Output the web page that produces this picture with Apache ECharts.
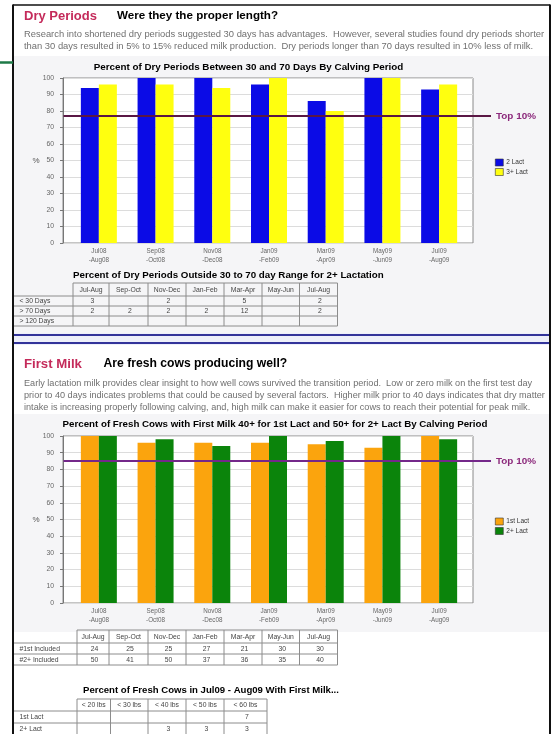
<!DOCTYPE html>
<html><head><meta charset="utf-8">
<script src="https://cdn.jsdelivr.net/npm/echarts@6/dist/echarts.min.js"></script>
<style>html,body{margin:0;padding:0;background:#fff;}#c{width:555px;height:734px;}</style>
</head><body><div id="c"></div>
<script>
// ---------- DATA ----------
const periods = ['Jul08\n-Aug08','Sep08\n-Oct08','Nov08\n-Dec08','Jan09\n-Feb09','Mar09\n-Apr09','May09\n-Jun09','Jul09\n-Aug09'];
const dryLact2 = [94, 100, 100, 96, 86, 100, 93];
const dryLact3 = [96, 96, 94, 100, 80, 100, 96];
const dryTop10 = 77;
const milkLact1 = [100, 96, 96, 96, 95, 93, 100];
const milkLact2 = [100, 98, 94, 100, 97, 100, 98];
const milkTop10 = 85;
const tableCols = ['Jul-Aug','Sep-Oct','Nov-Dec','Jan-Feb','Mar-Apr','May-Jun','Jul-Aug'];
const dryRowLabels = ['< 30 Days','> 70 Days','> 120 Days'];
const dryUnder30 = ['3','','2','','5','','2'];
const dryOver70 = ['2','2','2','2','12','','2'];
const dryOver120 = ['','','','','','',''];
const includedRowLabels = ['#1st Included','#2+ Included'];
const included1st = ['24','25','25','27','21','30','30'];
const included2nd = ['50','41','50','37','36','35','40'];
const firstMilkCols = ['< 20 lbs','< 30 lbs','< 40 lbs','< 50 lbs','< 60 lbs'];
const firstMilkRowLabels = ['1st Lact','2+ Lact'];
const firstMilk1st = ['','','','','7'];
const firstMilk2nd = ['','','3','3','3'];

// ---------- TEXT ----------
const dryTitle = 'Dry Periods', dryQuestion = 'Were they the proper length?';
const dryText = ['Research into shortened dry periods suggested 30 days has advantages.  However, several studies found dry periods shorter',
  'than 30 days resulted in 5% to 15% reduced milk production.  Dry periods longer than 70 days resulted in 10% less of milk.'];
const milkTitle = 'First Milk', milkQuestion = 'Are fresh cows producing well?';
const milkText = ['Early lactation milk provides clear insight to how well cows survived the transition period.  Low or zero milk on the first test day',
  'prior to 40 days indicates problems that could be caused by several factors.  Higher milk prior to 40 days indicates that dry matter',
  'intake is increasing properly following calving, and, high milk can make it easier for cows to reach their potential for peak milk.'];
const chart1Title = 'Percent of Dry Periods Between 30 and 70 Days By Calving Period';
const chart2Title = 'Percent of Fresh Cows with First Milk 40+ for 1st Lact and 50+ for 2+ Lact By Calving Period';
const table1Title = 'Percent of Dry Periods Outside 30 to 70 day Range for 2+ Lactation';
const table3Title = 'Percent of Fresh Cows in Jul09 - Aug09 With First Milk...';

// ---------- HELPERS ----------
const FONT = 'Liberation Sans';
const mctx = document.createElement('canvas').getContext('2d');
function fit(text, w, weight) {
  mctx.font = (weight || 'normal') + ' 100px "' + FONT + '"';
  return +(100 * w / mctx.measureText(text).width).toFixed(2);
}
function fitAll(lines, w) { return Math.min.apply(null, lines.map(t => fit(t, w))); }
function T(x, y, text, size, o) {
  o = o || {};
  const al = o.align || 'left';
  return { type: 'text', x: x, y: y, z: 20, silent: true,
    style: { text: text, x: 0, y: 0, fill: o.color || '#000',
      font: (o.weight || 'normal') + ' ' + size + 'px "' + FONT + '"',
      textAlign: al, align: al, textVerticalAlign: 'middle', verticalAlign: 'middle' } };
}
function L(x1, y1, x2, y2, c, w, z) {
  return { type: 'line', z: z || 15, silent: true, shape: { x1: x1, y1: y1, x2: x2, y2: y2 }, style: { stroke: c, lineWidth: w } };
}
function R(x, y, w, h, c, z) {
  return { type: 'rect', z: z == null ? -10 : z, silent: true, shape: { x: x, y: y, width: w, height: h }, style: { fill: c } };
}
function table(colX, rowY, headers, labels, rows, frameX, labelX) {
  const els = [], lc = '#8c8c8c', last = colX[colX.length - 1];
  els.push(L(colX[0], rowY[0], last, rowY[0], lc, 1));
  for (let i = 1; i < rowY.length; i++) els.push(L(frameX, rowY[i], last, rowY[i], lc, 1));
  colX.forEach(x => els.push(L(x, rowY[0], x, rowY[rowY.length - 1], lc, 1)));
  headers.forEach((h, i) => els.push(T((colX[i] + colX[i + 1]) / 2, (rowY[0] + rowY[1]) / 2 + 0.5, h, 6.8, { align: 'center', color: '#444' })));
  labels.forEach((lab, r) => {
    const cy = (rowY[r + 1] + rowY[r + 2]) / 2 + 0.5;
    els.push(T(labelX, cy, lab, 6.8, { color: '#444' }));
    rows[r].forEach((v, i) => { if (v !== '') els.push(T((colX[i] + colX[i + 1]) / 2 + 1.5, cy, v, 6.8, { align: 'center', color: '#444' })); });
  });
  return els;
}

// ---------- STATIC GRAPHICS ----------
const bodyColor = '#707070', titleColor = '#c42a5a';
const g = [];
g.push(R(14, 56, 535, 277, '#f5f5f7'));
g.push(R(14, 414, 535, 218, '#f5f5f7'));
// frame
g.push(L(13, 5, 550, 5, '#111', 1.5, 30));
g.push(L(13, 4.5, 13, 734, '#111', 2, 30));
g.push(L(550, 4.5, 550, 734, '#111', 2, 30));
g.push(L(0, 62.5, 13, 62.5, '#1e7a47', 2.5, 30));
// blue separator
g.push(R(14, 333, 535, 12, '#eef0fa', -5));
g.push(L(14, 335, 549, 335, '#33349a', 2, 30));
g.push(L(14, 343, 549, 343, '#33349a', 2, 30));
// section 1 header
g.push(T(24, 16, dryTitle, fit(dryTitle, 73, 'bold'), { weight: 'bold', color: titleColor }));
g.push(T(117, 16, dryQuestion, fit(dryQuestion, 161, 'bold'), { weight: 'bold' }));
const s1 = fitAll(dryText, 521);
dryText.forEach((t, i) => g.push(T(24, 34.5 + i * 11.5, t, s1, { color: bodyColor })));
g.push(T(248.5, 67.5, chart1Title, fit(chart1Title, 310, 'bold'), { weight: 'bold', align: 'center' }));
g.push(T(36, 160.5, '%', 8, { align: 'center', color: '#555' }));
g.push(T(73, 275.7, table1Title, fit(table1Title, 311, 'bold'), { weight: 'bold' }));
table([73, 109, 148, 186, 224, 262, 299.5, 337.5], [283, 296, 306, 316, 326], tableCols, dryRowLabels,
  [dryUnder30, dryOver70, dryOver120], 14, 19.5).forEach(e => g.push(e));
// section 2 header
g.push(T(24, 364, milkTitle, fit(milkTitle, 58, 'bold'), { weight: 'bold', color: titleColor }));
g.push(T(103.5, 364, milkQuestion, fit(milkQuestion, 184, 'bold'), { weight: 'bold' }));
const s2 = fitAll(milkText, 522);
milkText.forEach((t, i) => g.push(T(24, 383 + i * 12.3, t, s2, { color: bodyColor })));
g.push(T(275, 424.5, chart2Title, fit(chart2Title, 425, 'bold'), { weight: 'bold', align: 'center' }));
g.push(T(36, 519.5, '%', 8, { align: 'center', color: '#555' }));
table([77, 109, 148, 186, 224, 262, 299.5, 337.5], [630, 643, 654, 665], tableCols, includedRowLabels,
  [included1st, included2nd], 14, 19.5).forEach(e => g.push(e));
g.push(T(83, 690, table3Title, fit(table3Title, 256, 'bold'), { weight: 'bold' }));
table([77, 110.5, 148, 186, 224, 267], [699, 711, 723, 735], firstMilkCols, firstMilkRowLabels,
  [firstMilk1st, firstMilk2nd], 14, 19.5).forEach(e => g.push(e));

// ---------- CHART ----------
const chart = echarts.init(document.getElementById('c'), null, { renderer: 'canvas' });
const frameGrid = (top, h) => ({ left: 63, top: top, width: 410, height: h, show: true, backgroundColor: '#fff', borderColor: '#8a8a8a', borderWidth: 1 });
const barGrid = (top, h) => ({ left: 70.5, top: top, width: 397, height: h });
const frameY = (gi) => ({ type: 'value', gridIndex: gi, min: 0, max: 100, interval: 10,
  axisLine: { show: true, lineStyle: { color: '#777', width: 1 } },
  axisTick: { show: true, length: 3, lineStyle: { color: '#777' } },
  axisLabel: { fontSize: 6.8, color: '#666', margin: 9, fontFamily: FONT },
  splitLine: { show: true, lineStyle: { color: '#dcdcdc', width: 1 } } });
const hiddenX = (gi) => ({ type: 'value', gridIndex: gi, show: false, min: 0, max: 1, splitLine: { show: false } });
const catX = (gi) => ({ type: 'category', gridIndex: gi, data: periods,
  axisLine: { show: false }, axisTick: { show: false },
  axisLabel: { interval: 0, fontSize: 6.3, color: '#666', lineHeight: 9, margin: 4, fontFamily: FONT } });
const hiddenY = (gi) => ({ type: 'value', gridIndex: gi, min: 0, max: 100, show: false, splitLine: { show: false } });
const bar = (name, xi, data, color) => ({ type: 'bar', name: name, xAxisIndex: xi, yAxisIndex: xi, data: data,
  barWidth: 18, barGap: '0%', itemStyle: { color: color }, silent: true, z: 3 });
const legend = (names, top) => ({ data: names, left: 495, top: top, orient: 'vertical', icon: 'rect', itemWidth: 8, itemHeight: 7,
  itemGap: 1.5, padding: 0, selectedMode: false, itemStyle: { borderColor: '#333', borderWidth: 0.6 },
  textStyle: { fontSize: 6.5, color: '#333', lineHeight: 8, fontFamily: FONT, padding: [0, 0, 0, -2] } });

chart.setOption({
  animation: false,
  textStyle: { fontFamily: FONT },
  grid: [frameGrid(78, 165), barGrid(78, 165), frameGrid(436, 167), barGrid(436, 167)],
  xAxis: [hiddenX(0), catX(1), hiddenX(2), catX(3)],
  yAxis: [frameY(0), hiddenY(1), frameY(2), hiddenY(3)],
  legend: [legend(['2 Lact', '3+ Lact'], 158.5), legend(['1st Lact', '2+ Lact'], 517.5)],
  series: [
    bar('2 Lact', 1, dryLact2, '#0b0be6'),
    bar('3+ Lact', 1, dryLact3, '#ffff0f'),
    bar('1st Lact', 3, milkLact1, '#fba40d'),
    bar('2+ Lact', 3, milkLact2, '#0b840b')
  ],
  graphic: { elements: g }
});

// Top 10% reference lines, positioned through the axis scales
const y1 = chart.convertToPixel({ yAxisIndex: 0 }, dryTop10);
const y2 = chart.convertToPixel({ yAxisIndex: 2 }, milkTop10);
const topTxt = 'Top 10%';
const ts = fit(topTxt, 40, 'bold');
g.push(L(63.5, y1, 491, y1, '#5a1744', 2, 40));
g.push(T(496, y1, topTxt, ts, { weight: 'bold', color: '#8c2a7c' }));
g.push(L(63.5, y2, 491, y2, '#74288a', 2, 40));
g.push(T(496, y2, topTxt, ts, { weight: 'bold', color: '#8c2a7c' }));
chart.setOption({ graphic: { elements: g } });
</script></body></html>
